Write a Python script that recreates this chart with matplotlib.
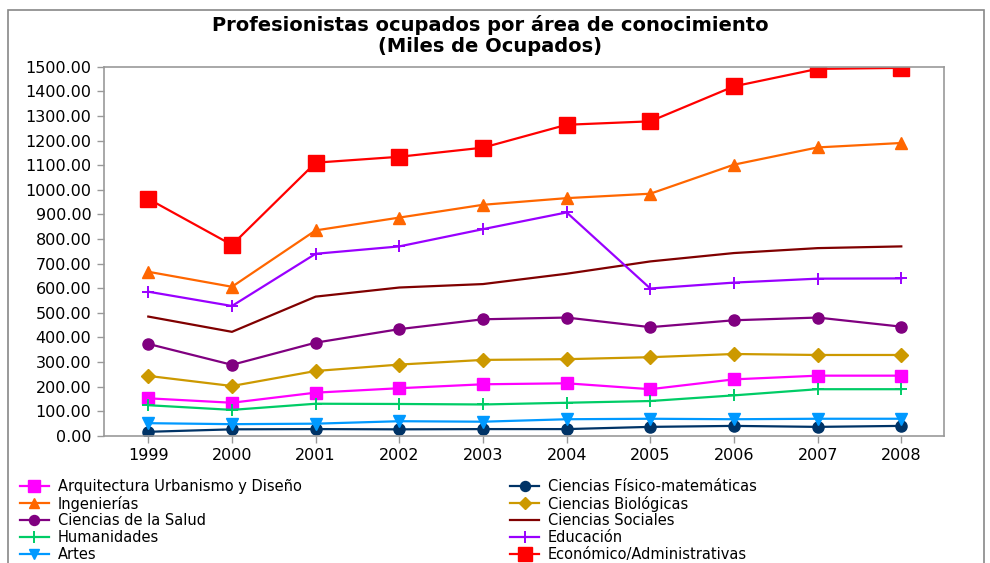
import numpy as np
import matplotlib
matplotlib.use("Agg")
import matplotlib.pyplot as plt
from matplotlib.patches import Rectangle

years = [1999, 2000, 2001, 2002, 2003, 2004, 2005, 2006, 2007, 2008]

arquitectura = [153, 135, 176, 194, 210, 214, 190, 230, 245, 245]
fisico_mat = [17, 27, 28, 27, 28, 28, 37, 41, 37, 41]
ingenierias = [667, 606, 835, 887, 939, 966, 984, 1102, 1172, 1190]
biologicas = [244, 203, 264, 290, 309, 312, 320, 333, 329, 329]
salud = [374, 289, 379, 434, 474, 481, 442, 470, 481, 444]
sociales = [485, 423, 566, 603, 617, 659, 709, 743, 763, 770]
humanidades = [125, 106, 131, 130, 128, 135, 142, 165, 190, 190]
educacion = [586, 528, 740, 770, 840, 908, 599, 623, 639, 640]
artes = [52, 48, 50, 60, 58, 68, 70, 68, 70, 70]
economico = [963, 776, 1110, 1134, 1171, 1264, 1278, 1420, 1491, 1495]

# (label, values, color, marker, markersize)
series = [
    ("Arquitectura Urbanismo y Diseño", arquitectura, "#FF00FF", "s", 9),
    ("Ciencias Físico-matemáticas", fisico_mat, "#003366", "o", 8),
    ("Ingenierías", ingenierias, "#FF6600", "^", 8),
    ("Ciencias Biológicas", biologicas, "#CC9900", "D", 7),
    ("Ciencias de la Salud", salud, "#800080", "o", 8),
    ("Ciencias Sociales", sociales, "#800000", None, 0),
    ("Humanidades", humanidades, "#00CC66", "+", 9),
    ("Educación", educacion, "#9900FF", "+", 9),
    ("Artes", artes, "#0099FF", "v", 8),
    ("Económico/Administrativas", economico, "#FF0000", "s", 11),
]

fig = plt.figure(figsize=(9.9, 5.63), dpi=100)
ax = fig.add_axes([0.105, 0.2256, 0.8485, 0.656])

handles = {}
for name, vals, col, mk, ms in series:
    kw = dict(color=col, lw=1.6, label=name)
    if mk == "+":
        kw.update(marker="+", ms=ms, mew=1.4)
    elif mk:
        kw.update(marker=mk, ms=ms, mec=col, mfc=col)
    line, = ax.plot(years, vals, **kw)
    handles[name] = line

ax.set_xlim(1998.47, 2008.51)
ax.set_ylim(0, 1500)
ax.set_xticks(years)
ax.set_yticks(np.arange(0, 1501, 100))
ax.yaxis.set_major_formatter(matplotlib.ticker.FormatStrFormatter("%.2f"))
ax.tick_params(labelsize=11.5, color="#999999", length=5, width=1, pad=4)
for s in ax.spines.values():
    s.set_color("#999999")
    s.set_linewidth(1.2)

fig.suptitle("Profesionistas ocupados por área de conocimiento\n(Miles de Ocupados)",
             fontsize=14, fontweight="bold", y=0.973, x=0.495, linespacing=1.12)

order = ["Arquitectura Urbanismo y Diseño", "Ingenierías", "Ciencias de la Salud",
         "Humanidades", "Artes", "Ciencias Físico-matemáticas", "Ciencias Biológicas",
         "Ciencias Sociales", "Educación", "Económico/Administrativas"]
fig.legend([handles[n] for n in order], order, ncol=2, loc="upper left",
           bbox_to_anchor=(0.014, 0.16), frameon=False, fontsize=10.5,
           handlelength=2.0, handletextpad=0.6, labelspacing=0.12,
           columnspacing=14.3, borderaxespad=0, markerscale=0.9)

fig.patches.append(Rectangle((0.008, -0.1), 0.986, 1.082, transform=fig.transFigure,
                             fill=False, edgecolor="#888888", lw=1.2))

fig.savefig("out.png", dpi=100)
